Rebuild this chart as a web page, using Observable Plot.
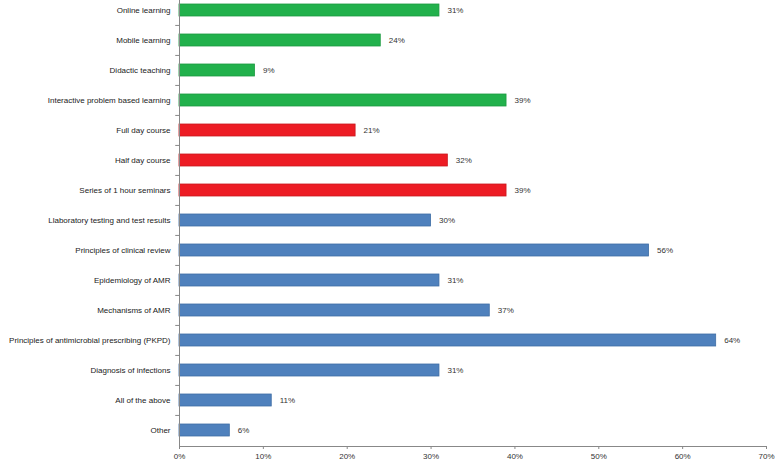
<!DOCTYPE html>
<html><head><meta charset="utf-8">
<script src="https://cdn.jsdelivr.net/npm/d3@7"></script>
<script src="https://cdn.jsdelivr.net/npm/@observablehq/plot@0.6"></script>
<style>body{margin:0;background:#fff}</style>
</head><body><div id="chart"></div>
<script>
const categories = ["Online learning","Mobile learning","Didactic teaching","Interactive problem based learning","Full day course","Half day course","Series of 1 hour seminars","Llaboratory testing and test results","Principles of clinical review","Epidemiology of AMR","Mechanisms of AMR","Principles of antimicrobial prescribing (PKPD)","Diagnosis of infections","All of the above","Other"];
const values = [31,24,9,39,21,32,39,30,56,31,37,64,31,11,6];
const groups = ["format","format","format","format","length","length","length","topic","topic","topic","topic","topic","topic","topic","topic"];
const xTicks = [0,10,20,30,40,50,60,70];

const data = categories.map((c,i)=>({category:c, value:values[i], group:groups[i]}));
const fills = {format:"#22b14c", length:"#ed1c24", topic:"#4f81bd"};
const strokes = {format:"#1d9a41", length:"#c9191f", topic:"#3f6ea5"};

const font = "Liberation Sans, Arial, sans-serif";
const chart = Plot.plot({
  width: 778, height: 463,
  marginLeft: 179, marginRight: 12, marginTop: 0, marginBottom: 17,
  style: {fontFamily: font, fontSize: "8px", color: "#333", background: "#fff"},
  x: {domain:[0,70], range:[179,766], ticks: xTicks, tickFormat: d=>d+"%", label:null},
  y: {domain: categories, range:[-6,446], paddingInner:0.6, paddingOuter:0.3, label:null},
  marks: [
    Plot.barX(data, {y:"category", x:"value", fill: d=>fills[d.group], stroke: d=>strokes[d.group], strokeWidth:0.8}),
    Plot.text(data, {y:"category", x:"value", text: d=>d.value+"%", dx:8, textAnchor:"start", fill:"#333", fontSize:8}),
    Plot.axisY({tickSize:0, tickPadding:9, fontSize:8, fill:"#222"}),
    Plot.axisX({ticks:xTicks, tickFormat:d=>d+"%", tickSize:3, tickPadding:4, fontSize:8, fill:"#333", stroke:"#888"}),
    Plot.frame({anchor:"left", stroke:"#888"}),
    Plot.frame({anchor:"bottom", stroke:"#888"}),
    Plot.ruleY(d3.range(1,15), {y: i=>categories[i], dy:-15.07, x1:-0.45, x2:0, stroke:"#888"})
  ]
});
document.getElementById("chart").appendChild(chart);
</script></body></html>
